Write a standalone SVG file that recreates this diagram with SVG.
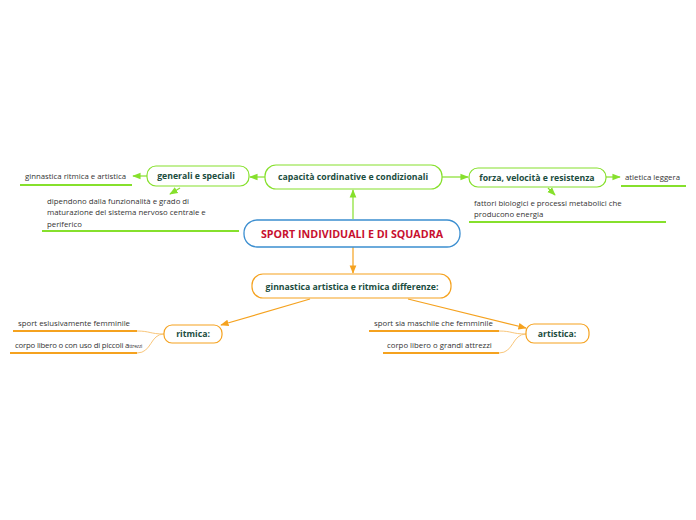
<svg xmlns="http://www.w3.org/2000/svg" width="696" height="520" viewBox="0 0 696 520">
<defs>
<marker id="ag" viewBox="0 0 10 10" refX="9" refY="5" markerWidth="7" markerHeight="7" orient="auto"><path d="M0,1 L10,5 L0,9 Z" fill="#86e02c"/></marker>
<marker id="ao" viewBox="0 0 10 10" refX="9" refY="5" markerWidth="7" markerHeight="7" orient="auto"><path d="M0,1 L10,5 L0,9 Z" fill="#f5a21f"/></marker>
<style>
.gbox{fill:#fff;stroke:#86e02c;stroke-width:1.2}
.obox{fill:#fff;stroke:#f5a21f;stroke-width:1.2}
.t{font-family:"Open Sans","Noto Sans",sans-serif;font-weight:bold;fill:#1b4d3e;text-anchor:middle;font-size:8.7px}
.s{font-family:"Open Sans","Noto Sans",sans-serif;fill:#333;font-size:7.8px}
.gl{stroke:#86e02c;stroke-width:1.2;fill:none}
.ol{stroke:#f5a21f;stroke-width:1.2;fill:none}
.gu{stroke:#86e02c;stroke-width:2}
.ou{stroke:#f5a21f;stroke-width:2}
.oc{stroke:#f9c67a;stroke-width:1;fill:none}
</style>
</defs>
<g id="connectors">
<line class="gl" x1="353" y1="219" x2="353" y2="190" marker-end="url(#ag)"/>
<line class="gl" x1="265" y1="177" x2="250" y2="177" marker-end="url(#ag)"/>
<line class="gl" x1="147" y1="176" x2="133" y2="176" marker-end="url(#ag)"/>
<line class="gl" x1="180" y1="188" x2="170" y2="194" marker-end="url(#ag)"/>
<line class="gl" x1="442" y1="177" x2="468" y2="177" marker-end="url(#ag)"/>
<line class="gl" x1="606" y1="177" x2="620" y2="177" marker-end="url(#ag)"/>
<line class="gl" x1="548" y1="188" x2="555" y2="195" marker-end="url(#ag)"/>
<line class="ol" x1="353" y1="247" x2="353" y2="273" marker-end="url(#ao)"/>
<line class="ol" x1="310" y1="299" x2="221" y2="325" marker-end="url(#ao)"/>
<line class="ol" x1="408" y1="299" x2="526" y2="328" marker-end="url(#ao)"/>
<path class="oc" d="M164,334 C150,334 150,331 137,331"/>
<path class="oc" d="M164,334 C150,334 152,353 137,353"/>
<path class="oc" d="M526,334 C512,334 512,331 499,331"/>
<path class="oc" d="M526,334 C512,334 514,353 499,353"/>
</g>
<g id="central">
<rect x="244" y="220" width="216" height="27" rx="13" fill="#fff" stroke="#3b8ed0" stroke-width="1.3"/>
<text x="352" y="238" text-anchor="middle" font-family="'Open Sans','Noto Sans',sans-serif" font-weight="bold" font-size="10.7" fill="#c8102e">SPORT INDIVIDUALI E DI SQUADRA</text>
</g>
<g id="capacita">
<rect class="gbox" x="265" y="165" width="177" height="24" rx="11"/>
<text class="t" x="353" y="180">capacità cordinative e condizionali</text>
</g>
<g id="generali">
<rect class="gbox" x="147" y="166" width="102" height="20" rx="9"/>
<text class="t" x="196" y="179">generali e speciali</text>
</g>
<g id="ginnastica-ritmica-artistica">
<text class="s" x="25" y="179">ginnastica ritmica e artistica</text>
<line class="gu" x1="20" y1="185" x2="132" y2="185"/>
</g>
<g id="dipendono">
<text class="s" x="47" y="204">dipendono dalla funzionalità e grado di</text>
<text class="s" x="47" y="215">maturazione del sistema nervoso centrale e</text>
<text class="s" x="47" y="227">periferico</text>
<line class="gu" x1="42" y1="231" x2="239" y2="231"/>
</g>
<g id="forza">
<rect class="gbox" x="469" y="168" width="137" height="19" rx="9"/>
<text class="t" x="537" y="181">forza, velocità e resistenza</text>
</g>
<g id="atletica">
<text class="s" x="625" y="180">atletica leggera</text>
<line class="gu" x1="621" y1="186" x2="686" y2="186"/>
</g>
<g id="fattori">
<text class="s" x="474" y="206">fattori biologici e processi metabolici che</text>
<text class="s" x="474" y="217">producono energia</text>
<line class="gu" x1="469" y1="222" x2="666" y2="222"/>
</g>
<g id="differenze">
<rect class="obox" x="252" y="274" width="199" height="24" rx="11"/>
<text class="t" x="352" y="290">ginnastica artistica e ritmica differenze:</text>
</g>
<g id="ritmica">
<rect class="obox" x="164" y="325" width="58" height="18" rx="8"/>
<text class="t" x="193" y="337">ritmica:</text>
</g>
<g id="sport-femminile">
<text class="s" x="18" y="326">sport eslusivamente femminile</text>
<line class="ou" x1="13" y1="331" x2="137" y2="331"/>
</g>
<g id="corpo-piccoli">
<text class="s" x="15" y="348" font-size="6" letter-spacing="-0.2">corpo libero o con uso di piccoli a<tspan font-size="5">ttrezzi</tspan></text>
<line class="ou" x1="10" y1="353" x2="137" y2="353"/>
</g>
<g id="artistica">
<rect class="obox" x="526" y="324" width="63" height="19" rx="8"/>
<text class="t" x="557" y="337">artistica:</text>
</g>
<g id="sport-maschile">
<text class="s" x="374" y="326">sport sia maschile che femminile</text>
<line class="ou" x1="369" y1="331" x2="499" y2="331"/>
</g>
<g id="corpo-grandi">
<text class="s" x="387" y="348">corpo libero o grandi attrezzi</text>
<line class="ou" x1="383" y1="353" x2="499" y2="353"/>
</g>
</svg>
